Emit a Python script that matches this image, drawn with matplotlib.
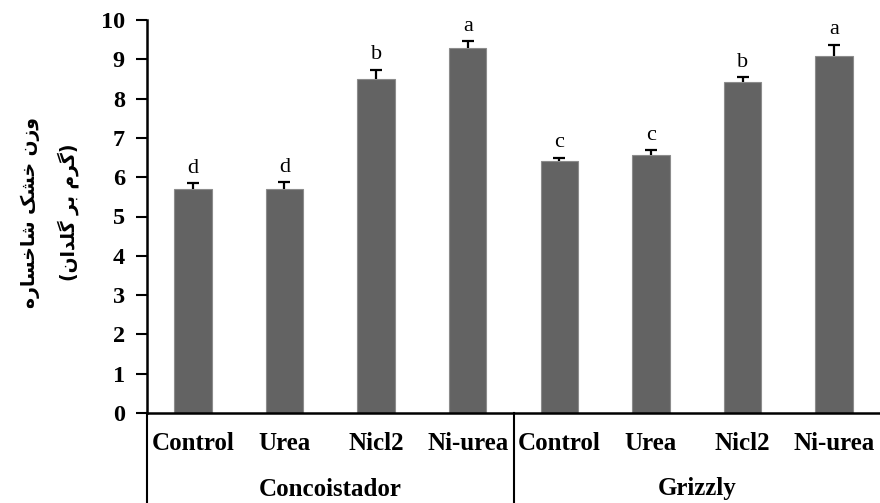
import matplotlib
matplotlib.use('Agg')
import matplotlib.pyplot as plt
import numpy as np

cultivars = ['Concoistador', 'Grizzly']
treatments = ['Control', 'Urea', 'Nicl2', 'Ni-urea']
dry_weight = [5.69, 5.69, 8.51, 9.28, 6.41, 6.56, 8.43, 9.09]
std_err = [0.15, 0.18, 0.23, 0.18, 0.09, 0.13, 0.11, 0.28]
letters = ['d', 'd', 'b', 'a', 'c', 'c', 'b', 'a']

# y label "وزن خشک شاخساره" / "(گرم بر گلدان)" pre-shaped (presentation forms,
# visual order) since matplotlib does no Arabic shaping
ylabel_1 = '\uFEE9\uFEAD\uFE8E\uFEB4\uFEA7\uFE8E\uFEB7 \uFB8F\uFEB8\uFEA7 \uFEE5\uFEAF\uFEED'
ylabel_2 = '(\uFEE5\uFE8D\uFEAA\uFEE0\uFB94 \uFEAE\uFE91 \uFEE1\uFEAE\uFB94)'

serif = 'Liberation Serif'


def main():
    fig = plt.figure(figsize=(8.8, 5.03), dpi=100)
    ax = fig.add_axes([147 / 880, 90 / 503, 1 - 147 / 880, 393 / 503])

    n = len(dry_weight)
    x = np.arange(n)
    ax.bar(x, dry_weight, width=0.41, color='#636363', edgecolor='#8c8c8c', linewidth=0.8, zorder=2)
    _, caps, _ = ax.errorbar(x, dry_weight, yerr=[np.zeros(n), std_err], fmt='none', ecolor='black',
                             elinewidth=1.6, capsize=4, capthick=1.6, zorder=3)
    caps[0].set_visible(False)  # only the upper cap

    for xi, v, e, lab in zip(x, dry_weight, std_err, letters):
        ax.annotate(lab, (xi, v + e), xytext=(0, 4), textcoords='offset points',
                    ha='center', va='bottom', fontsize=16, family=serif)

    ax.set_xlim(-0.5, n - 0.5)
    ax.set_ylim(0, 10)
    ax.set_yticks(range(0, 11))
    ax.set_xticks([])
    ax.tick_params(axis='y', direction='out', length=8, width=1.5, pad=8)
    for t in ax.get_yticklabels():
        t.set_fontfamily(serif)
        t.set_fontweight('bold')
        t.set_fontsize(17.5)

    for side in ['top', 'right']:
        ax.spines[side].set_visible(False)
    ax.spines['left'].set_linewidth(1.8)
    ax.spines['bottom'].set_linewidth(1.8)

    # category table under the axis
    tr = ax.get_xaxis_transform()
    drop = -90 / 393
    ax.plot([-0.5, -0.5], [0, drop], color='black', lw=1.5, transform=tr, clip_on=False)
    ax.plot([3.5, 3.5], [0, drop], color='black', lw=1.5, transform=tr, clip_on=False)
    labels = treatments * len(cultivars)
    for xi, lab in zip(x, labels):
        ax.text(xi, -31 / 393, lab, transform=tr, ha='center', va='center',
                fontsize=18, fontweight='bold', family=serif)
    for gi, name in enumerate(cultivars):
        ax.text(gi * 4 + 1.5, -76 / 393, name, transform=tr, ha='center', va='center',
                fontsize=18, fontweight='bold', family=serif)

    fig.text(50 / 880, 1 - 212 / 503, ylabel_1 + '\n' + ylabel_2, rotation=90,
             ha='center', va='center', multialignment='center', fontsize=13.5,
             fontweight='bold', family='DejaVu Sans', linespacing=2.0)

    fig.savefig('out.png', dpi=100)


if __name__ == '__main__':
    main()
